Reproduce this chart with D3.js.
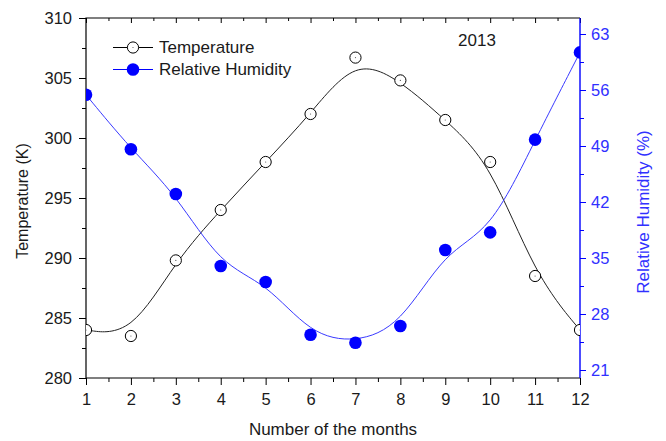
<!DOCTYPE html>
<html>
<head>
<meta charset="utf-8">
<script src="https://cdn.jsdelivr.net/npm/d3@7/dist/d3.min.js"></script>
<style>
  html, body { margin: 0; padding: 0; background: #fff; }
  svg { display: block; font-family: "Liberation Sans", Arial, sans-serif; }
</style>
</head>
<body>
<svg id="chart" width="666" height="441"></svg>
<script>
// Monthly mean temperature and relative humidity, 2013
const months = [1, 2, 3, 4, 5, 6, 7, 8, 9, 10, 11, 12];
const temperature = [284.0, 283.5, 289.8, 294.0, 298.0, 302.0, 306.7, 304.8, 301.5, 298.0, 288.5, 284.0];
const humidity = [55.4, 48.6, 43.0, 34.0, 32.0, 25.4, 24.4, 26.5, 36.0, 38.2, 49.8, 60.7];

const tempTicks = [280, 285, 290, 295, 300, 305, 310];
const humidityTicks = [21, 28, 35, 42, 49, 56, 63];
const monthTicks = months;

const seriesNames = ["Temperature", "Relative Humidity"];
const yearLabel = "2013";

const BLUE = "#0000ff";
const BLUE_TEXT = "#3030ff";
const INK = "#1a1a1a";
const TICK_FONT = "16.5px";
const LABEL_FONT = "17px";

const svg = d3.select("#chart");
const plot = { left: 86, right: 580, top: 18, bottom: 378 };

const x = d3.scaleLinear().domain([1, 12]).range([plot.left, plot.right]);
const yT = d3.scaleLinear().domain([280, 310]).range([plot.bottom, plot.top]);
const yH = d3.scaleLinear().domain([20, 65]).range([plot.bottom, plot.top]);

svg.append("defs").append("clipPath").attr("id", "plot-clip")
  .append("rect")
  .attr("x", plot.left).attr("y", plot.top)
  .attr("width", plot.right - plot.left).attr("height", plot.bottom - plot.top);

// minor tick helpers
function halfSteps(ticks) {
  const out = [];
  for (let i = 0; i < ticks.length - 1; i++) out.push((ticks[i] + ticks[i + 1]) / 2);
  return out;
}

function styleAxis(g, color, textColor) {
  g.select(".domain").remove();
  g.selectAll(".tick line").attr("stroke", color).attr("stroke-width", 1);
  g.selectAll(".tick text").attr("fill", textColor)
    .style("font-size", TICK_FONT).style("font-family", "'Liberation Sans', Arial, sans-serif");
}

function minorTicks(g, color) {
  g.select(".domain").remove();
  g.selectAll("line").attr("stroke", color);
}

// Bottom axis
const gx = svg.append("g").attr("transform", `translate(0,${plot.bottom})`)
  .call(d3.axisBottom(x).tickValues(monthTicks).tickFormat(d3.format("d")).tickSizeInner(7).tickSizeOuter(0).tickPadding(8));
styleAxis(gx, "#000", INK);
svg.append("g").attr("transform", `translate(0,${plot.bottom})`)
  .call(d3.axisBottom(x).tickValues(halfSteps(monthTicks)).tickFormat("").tickSize(4))
  .call(g => minorTicks(g, "#000"));

// Top axis: inward ticks only
svg.append("g").attr("transform", `translate(0,${plot.top})`)
  .call(d3.axisBottom(x).tickValues(monthTicks).tickFormat("").tickSize(5))
  .call(g => minorTicks(g, "#000"));
svg.append("g").attr("transform", `translate(0,${plot.top})`)
  .call(d3.axisBottom(x).tickValues(halfSteps(monthTicks)).tickFormat("").tickSize(3))
  .call(g => minorTicks(g, "#000"));

// Left axis (temperature)
const gyT = svg.append("g").attr("transform", `translate(${plot.left},0)`)
  .call(d3.axisLeft(yT).tickValues(tempTicks).tickFormat(d3.format("d")).tickSizeInner(7).tickSizeOuter(0).tickPadding(7));
styleAxis(gyT, "#000", INK);
svg.append("g").attr("transform", `translate(${plot.left},0)`)
  .call(d3.axisLeft(yT).tickValues(halfSteps(tempTicks)).tickFormat("").tickSize(4))
  .call(g => minorTicks(g, "#000"));

// Right axis (relative humidity)
const gyH = svg.append("g").attr("transform", `translate(${plot.right},0)`)
  .call(d3.axisRight(yH).tickValues(humidityTicks).tickFormat(d3.format("d")).tickSizeInner(6).tickSizeOuter(0).tickPadding(5));
styleAxis(gyH, BLUE, BLUE_TEXT);
svg.append("g").attr("transform", `translate(${plot.right},0)`)
  .call(d3.axisRight(yH).tickValues(halfSteps(humidityTicks)).tickFormat("").tickSize(4))
  .call(g => minorTicks(g, BLUE));

// Frame
svg.append("path")
  .attr("d", `M${plot.right},${plot.top}H${plot.left}V${plot.bottom}H${plot.right}`)
  .attr("fill", "none").attr("stroke", "#000").attr("stroke-width", 1.2);
svg.append("line")
  .attr("x1", plot.right).attr("x2", plot.right).attr("y1", plot.top).attr("y2", plot.bottom)
  .attr("stroke", BLUE).attr("stroke-width", 1.4);

// Series
const data = months.map((m, i) => ({ m, t: temperature[i], h: humidity[i] }));
const layer = svg.append("g").attr("clip-path", "url(#plot-clip)");

const tLine = d3.line().x(d => x(d.m)).y(d => yT(d.t)).curve(d3.curveBasis);
const hLine = d3.line().x(d => x(d.m)).y(d => yH(d.h)).curve(d3.curveBasis);

layer.append("path").attr("d", tLine(data)).attr("fill", "none")
  .attr("stroke", "#222").attr("stroke-width", 1);
layer.append("path").attr("d", hLine(data)).attr("fill", "none")
  .attr("stroke", "#3a3aff").attr("stroke-width", 1);

layer.selectAll("circle.t").data(data).join("circle").attr("class", "t")
  .attr("cx", d => x(d.m)).attr("cy", d => yT(d.t)).attr("r", 5.6)
  .attr("fill", "#fff").attr("stroke", "#000").attr("stroke-width", 1);
layer.selectAll("circle.tc").data(data).join("circle").attr("class", "tc")
  .attr("cx", d => x(d.m)).attr("cy", d => yT(d.t)).attr("r", 0.6).attr("fill", "#555");
layer.selectAll("circle.h").data(data).join("circle").attr("class", "h")
  .attr("cx", d => x(d.m)).attr("cy", d => yH(d.h)).attr("r", 6.3)
  .attr("fill", BLUE);

// Legend
const legend = svg.append("g");
const legendRows = [
  { name: seriesNames[0], y: 47.5, line: "#000", fill: "#fff", stroke: "#000", r: 5.6 },
  { name: seriesNames[1], y: 69.5, line: BLUE, fill: BLUE, stroke: "none", r: 6.3 }
];
legendRows.forEach(r => {
  legend.append("line").attr("x1", 113).attr("x2", 153).attr("y1", r.y).attr("y2", r.y)
    .attr("stroke", r.line).attr("stroke-width", 1);
  legend.append("circle").attr("cx", 133).attr("cy", r.y).attr("r", r.r)
    .attr("fill", r.fill).attr("stroke", r.stroke).attr("stroke-width", 1);
  legend.append("text").attr("x", 159).attr("y", r.y + 5.5)
    .attr("fill", INK).style("font-size", LABEL_FONT).text(r.name);
});
legend.append("circle").attr("cx", 133).attr("cy", 47.5).attr("r", 0.6).attr("fill", "#555");

// Year label
svg.append("text").attr("x", 477).attr("y", 46).attr("text-anchor", "middle")
  .attr("fill", INK).style("font-size", LABEL_FONT).text(yearLabel);

// Axis titles
svg.append("text").attr("x", (plot.left + plot.right) / 2).attr("y", 435)
  .attr("text-anchor", "middle").attr("fill", INK).style("font-size", LABEL_FONT)
  .text("Number of the months");
svg.append("text").attr("transform", "translate(28,201) rotate(-90)")
  .attr("text-anchor", "middle").attr("fill", INK).style("font-size", "16px")
  .text("Temperature (K)");
svg.append("text").attr("transform", "translate(649,212) rotate(-90)")
  .attr("text-anchor", "middle").attr("fill", BLUE_TEXT).style("font-size", LABEL_FONT)
  .text("Relative Humidity (%)");
</script>
</body>
</html>
